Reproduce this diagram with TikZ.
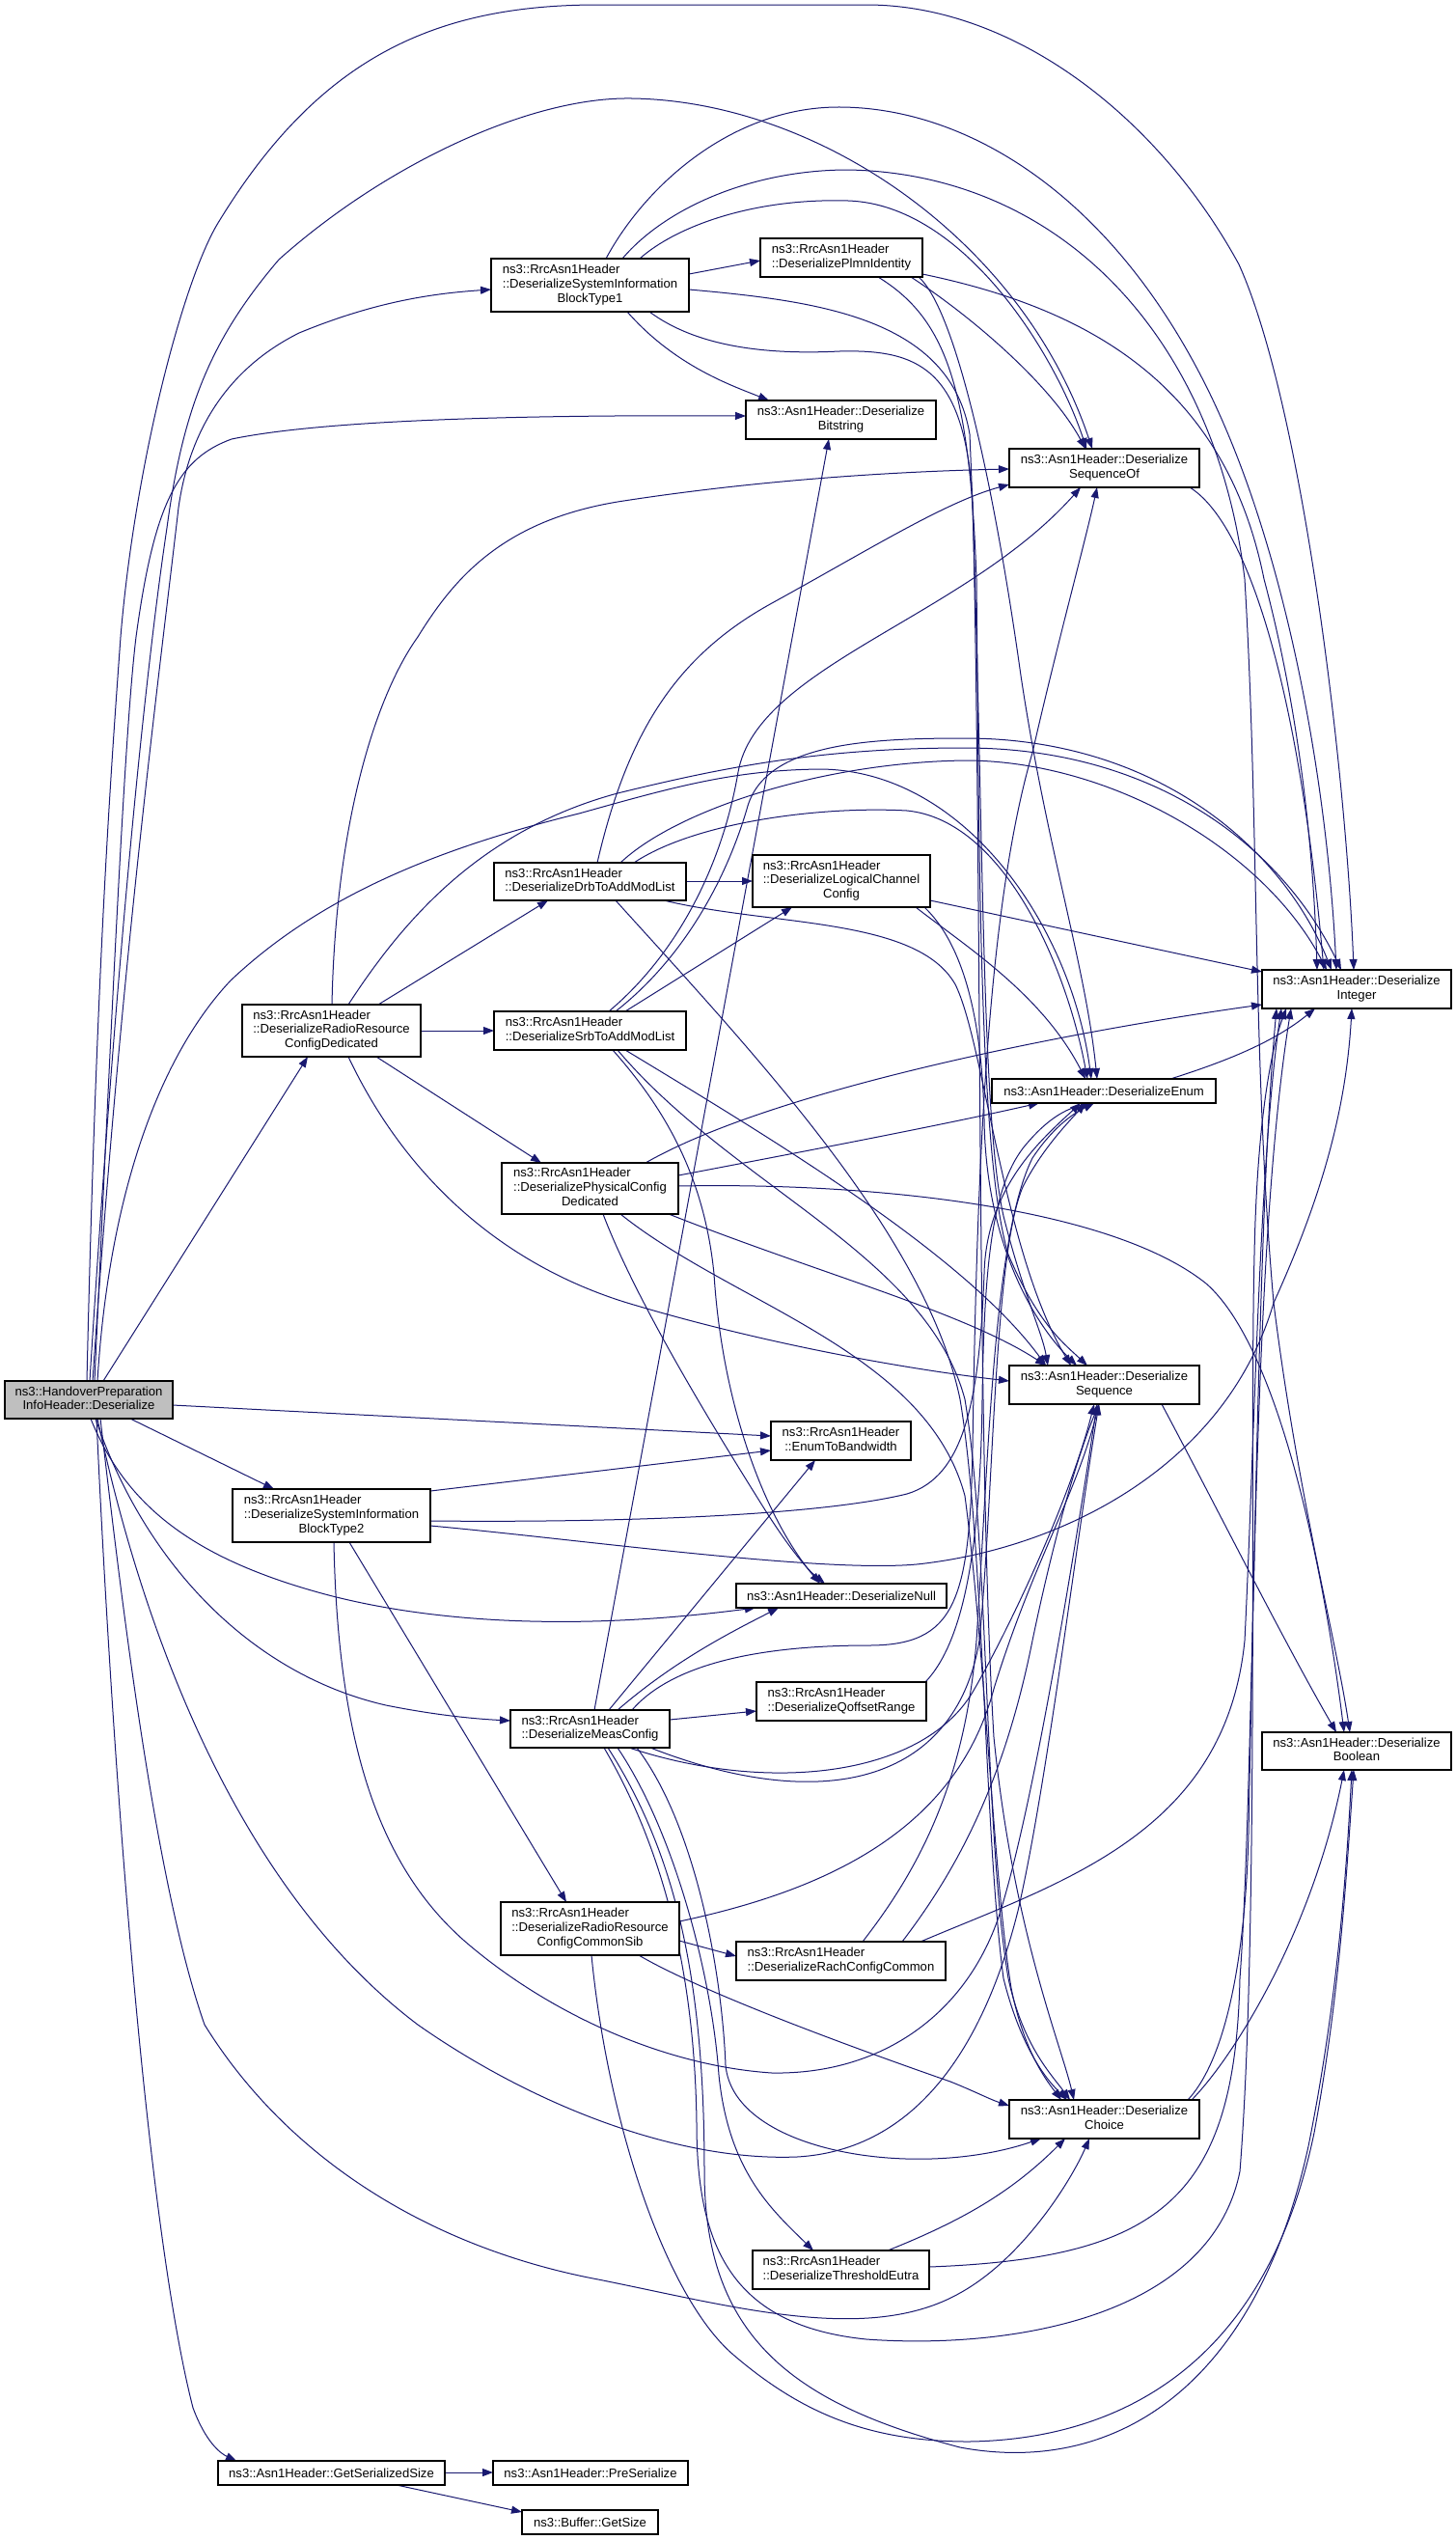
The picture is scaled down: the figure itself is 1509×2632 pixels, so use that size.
\documentclass[tikz,border=0pt]{standalone}
\usepackage{fontspec}
\setmainfont{Liberation Sans}
\usetikzlibrary{arrows.meta}
\definecolor{edgeblue}{HTML}{191970}
\definecolor{mainfill}{HTML}{BFBFBF}
\newcommand\lt[2]{\begin{tabular}{@{}l@{}}#1\\\multicolumn{1}{@{}c@{}}{#2}\end{tabular}}
\pgfdeclarelayer{bg}
\pgfdeclarelayer{edges}
\pgfsetlayers{bg,edges,main}
\begin{document}
\begin{tikzpicture}[x=1pt,y=-1pt,
  box/.style={draw=black,line width=1.1pt,fill=white,anchor=north west,inner sep=0pt,outer sep=0pt,font=\fontsize{13.1}{14.7}\selectfont},
  e/.style={draw=edgeblue,line width=1pt,-{Triangle[length=11pt,width=8pt]}}]
\begin{pgfonlayer}{bg}
\fill[white] (0,0) rectangle (1509,2632);
\end{pgfonlayer}
\useasboundingbox (0,0) rectangle (1509,2632);
% nodes
\node[box,fill=mainfill,minimum width=174pt,minimum height=39pt] (M) at (5,1431) {\lt{ns3::HandoverPreparation}{InfoHeader::Deserialize}};
\node[box,minimum width=205pt,minimum height=55pt] (S1) at (509,268) {\lt{ns3::RrcAsn1Header\\::DeserializeSystemInformation}{BlockType1}};
\node[box,minimum width=168pt,minimum height=40pt] (PI) at (788,247) {\lt{ns3::RrcAsn1Header}{::DeserializePlmnIdentity}};
\node[box,minimum width=197pt,minimum height=40pt] (BS) at (773,415) {\lt{ns3::Asn1Header::Deserialize}{Bitstring}};
\node[box,minimum width=197pt,minimum height=40pt] (SO) at (1046,465) {\lt{ns3::Asn1Header::Deserialize}{SequenceOf}};
\node[box,minimum width=199pt,minimum height=39pt] (DRB) at (512,894) {\lt{ns3::RrcAsn1Header}{::DeserializeDrbToAddModList}};
\node[box,minimum width=184pt,minimum height=54pt] (LCC) at (780,886) {\lt{ns3::RrcAsn1Header\\::DeserializeLogicalChannel}{Config}};
\node[box,minimum width=185pt,minimum height=54pt] (RD) at (251,1041) {\lt{ns3::RrcAsn1Header\\::DeserializeRadioResource}{ConfigDedicated}};
\node[box,minimum width=199pt,minimum height=40pt] (SRB) at (512,1048) {\lt{ns3::RrcAsn1Header}{::DeserializeSrbToAddModList}};
\node[box,minimum width=196pt,minimum height=40pt] (INT) at (1308,1005) {\lt{ns3::Asn1Header::Deserialize}{Integer}};
\node[box,minimum width=232pt,minimum height=25pt] (EN) at (1028,1118) {ns3::Asn1Header::DeserializeEnum};
\node[box,minimum width=183pt,minimum height=53pt] (PCD) at (520,1205) {\lt{ns3::RrcAsn1Header\\::DeserializePhysicalConfig}{Dedicated}};
\node[box,minimum width=197pt,minimum height=40pt] (SEQ) at (1046,1415) {\lt{ns3::Asn1Header::Deserialize}{Sequence}};
\node[box,minimum width=145pt,minimum height=40pt] (EB) at (799,1473) {\lt{ns3::RrcAsn1Header}{::EnumToBandwidth}};
\node[box,minimum width=205pt,minimum height=55pt] (S2) at (241,1543) {\lt{ns3::RrcAsn1Header\\::DeserializeSystemInformation}{BlockType2}};
\node[box,minimum width=218pt,minimum height=25pt] (NU) at (763,1641) {ns3::Asn1Header::DeserializeNull};
\node[box,minimum width=165pt,minimum height=39pt] (MC) at (529,1772) {\lt{ns3::RrcAsn1Header}{::DeserializeMeasConfig}};
\node[box,minimum width=176pt,minimum height=40pt] (QR) at (784,1743) {\lt{ns3::RrcAsn1Header}{::DeserializeQoffsetRange}};
\node[box,minimum width=196pt,minimum height=39pt] (BO) at (1308,1795) {\lt{ns3::Asn1Header::Deserialize}{Boolean}};
\node[box,minimum width=185pt,minimum height=55pt] (RCS) at (519,1971) {\lt{ns3::RrcAsn1Header\\::DeserializeRadioResource}{ConfigCommonSib}};
\node[box,minimum width=217pt,minimum height=40pt] (RCC) at (763,2012) {\lt{ns3::RrcAsn1Header}{::DeserializeRachConfigCommon}};
\node[box,minimum width=197pt,minimum height=40pt] (CH) at (1046,2176) {\lt{ns3::Asn1Header::Deserialize}{Choice}};
\node[box,minimum width=183pt,minimum height=40pt] (TE) at (780,2332) {\lt{ns3::RrcAsn1Header}{::DeserializeThresholdEutra}};
\node[box,minimum width=235pt,minimum height=25pt] (GS) at (226,2550) {ns3::Asn1Header::GetSerializedSize};
\node[box,minimum width=202pt,minimum height=25pt] (PS) at (511,2550) {ns3::Asn1Header::PreSerialize};
\node[box,minimum width=141pt,minimum height=25pt] (BG) at (541,2601) {ns3::Buffer::GetSize};
% edges
\begin{pgfonlayer}{edges}
% Main
\draw[e] ([xshift=85pt]M.north west) .. controls (100,1000) and (115,800) .. (125,660) .. controls (140,480) and (190,290) .. (226,231) .. controls (330,60) and (450,5) .. (620,5) -- (898,5) .. controls (1050,5) and (1200,120) .. (1284,274) .. controls (1350,420) and (1395,800) .. ([xshift=95pt]INT.north west);
\draw[e] ([xshift=88pt]M.north west) .. controls (120,1000) and (150,700) .. (173,547) .. controls (190,420) and (220,350) .. (289,269) .. controls (400,170) and (550,100) .. (655,102) .. controls (850,105) and (1060,250) .. ([xshift=86pt]SO.north west);
\draw[e] ([xshift=91pt]M.north west) .. controls (125,1000) and (165,700) .. (185,526) .. controls (200,420) and (260,370) .. (310,345) .. controls (390,312) and (450,304) .. ([yshift=-32pt]S1.north west);
\draw[e] ([xshift=93pt]M.north west) .. controls (118,1000) and (130,750) .. (141,660) .. controls (160,520) and (185,475) .. (240,455) .. controls (350,432) and (600,430) .. ([yshift=-16pt]BS.north west);
\draw[e] ([xshift=96pt]M.north west) .. controls (112,1250) and (160,1100) .. (239,1016) .. controls (330,930) and (450,880) .. (600,843) .. controls (700,815) and (760,798) .. (850,797) .. controls (1000,798) and (1110,960) .. ([xshift=103pt]EN.north west);
\draw[e] ([xshift=102pt]M.north west) -- ([xshift=68pt]RD.south west);
\draw[e] ([yshift=-25pt]M.north east) -- ([yshift=-15pt]EB.north west);
\draw[e] ([xshift=130pt]M.south west) -- ([xshift=43pt]S2.north west);
\draw[e] ([xshift=89pt]M.south west) .. controls (130,1560) and (200,1615) .. (337,1652) .. controls (450,1682) and (600,1690) .. ([xshift=20pt]NU.south west);
\draw[e] ([xshift=94pt]M.south west) .. controls (150,1620) and (260,1735) .. (400,1767) .. controls (450,1777) and (490,1781) .. ([yshift=-11pt]MC.north west);
\draw[e] ([xshift=96pt]M.south west) .. controls (150,1700) and (250,1960) .. (433,2098) .. controls (550,2180) and (700,2240) .. (826,2235) .. controls (950,2228) and (1020,2120) .. (1055,1980) .. controls (1085,1850) and (1115,1600) .. ([xshift=93pt]SEQ.south west);
\draw[e] ([xshift=99pt]M.south west) .. controls (125,1650) and (160,1950) .. (212,2098) .. controls (300,2240) and (450,2330) .. (620,2362) .. controls (760,2390) and (900,2430) .. (995,2376) .. controls (1060,2340) and (1110,2260) .. ([xshift=83pt]CH.south west);
\draw[e] ([xshift=95pt]M.south west) .. controls (115,1800) and (150,2300) .. (200,2495) .. controls (213,2530) and (228,2542) .. ([xshift=19pt]GS.north west);
% SIB1
\draw[e] ([yshift=-16pt]S1.north east) -- ([yshift=-23pt]PI.north west);
\draw[e] ([xshift=141pt]S1.south west) .. controls (700,380) and (760,400) .. ([xshift=24pt]BS.north west);
\draw[e] ([xshift=154pt]S1.north west) .. controls (700,235) and (780,205) .. (879,208) .. controls (1000,212) and (1095,370) .. ([xshift=80pt]SO.north west);
\draw[e] ([xshift=119pt]S1.north west) .. controls (670,190) and (760,112) .. (867,111) .. controls (1000,110) and (1150,200) .. (1250,400) .. controls (1330,560) and (1375,800) .. ([xshift=77pt]INT.north west);
\draw[e] ([xshift=136pt]S1.north west) .. controls (690,215) and (780,176) .. (879,176) .. controls (1100,180) and (1260,350) .. (1290,600) .. controls (1305,850) and (1298,1100) .. (1320,1350) .. controls (1345,1550) and (1385,1700) .. ([xshift=91pt]BO.north west);
\draw[e] ([yshift=-32pt]S1.north east) .. controls (850,312) and (985,330) .. (1005,450) .. controls (1020,800) and (1015,1150) .. (1040,1260) .. controls (1060,1340) and (1080,1380) .. ([xshift=40pt]SEQ.north west);
\draw[e] ([xshift=164pt]S1.south west) .. controls (720,358) and (790,368) .. (870,364) .. controls (950,362) and (1000,380) .. (1008,520) .. controls (1018,900) and (1012,1500) .. (1030,1800) .. controls (1050,2000) and (1100,2120) .. ([xshift=67pt]CH.north west);
% PlmnIdentity
\draw[e] ([xshift=156pt]PI.south west) .. controls (1010,330) and (1090,400) .. ([xshift=79pt]SO.north west);
\draw[e] ([yshift=-37pt]PI.north east) .. controls (1130,320) and (1270,400) .. (1310,600) .. controls (1350,750) and (1362,900) .. ([xshift=57pt]INT.north west);
\draw[e] ([xshift=164pt]PI.south west) .. controls (990,320) and (1030,500) .. (1058,700) .. controls (1085,880) and (1125,1000) .. ([xshift=109pt]EN.north west);
\draw[e] ([xshift=122pt]PI.south west) .. controls (980,330) and (1005,400) .. (1012,600) .. controls (1015,900) and (1015,1200) .. (1045,1300) .. controls (1075,1370) and (1100,1390) .. ([xshift=81pt]SEQ.north west);
% SequenceOf
\draw[e] ([xshift=187pt]SO.south west) .. controls (1290,540) and (1345,700) .. ([xshift=64pt]INT.north west);
% DrbToAddModList
\draw[e] ([xshift=107pt]DRB.north west) .. controls (650,760) and (700,680) .. (800,625) .. controls (900,570) and (980,520) .. ([yshift=-37pt]SO.north west);
\draw[e] ([yshift=-19pt]DRB.north east) -- ([yshift=-27pt]LCC.north west);
\draw[e] ([xshift=131pt]DRB.north west) .. controls (700,840) and (850,790) .. (1000,788) .. controls (1150,788) and (1310,880) .. ([xshift=67pt]INT.north west);
\draw[e] ([xshift=145pt]DRB.north west) .. controls (720,852) and (850,835) .. (940,840) .. controls (1040,850) and (1105,1000) .. ([xshift=99pt]EN.north west);
\draw[e] ([xshift=176pt]DRB.south west) .. controls (800,960) and (950,950) .. (990,1020) .. controls (1020,1080) and (1040,1300) .. ([xshift=64pt]SEQ.north west);
\draw[e] ([xshift=126pt]DRB.south west) .. controls (780,1090) and (960,1280) .. (995,1450) .. controls (1020,1600) and (1020,1900) .. (1040,2050) .. controls (1060,2130) and (1090,2160) .. ([xshift=60pt]CH.north west);
% SrbToAddModList
\draw[e] ([xshift=119pt]SRB.north west) .. controls (700,990) and (748,900) .. (765,800) .. controls (785,690) and (1000,640) .. ([xshift=74pt]SO.south west);
\draw[e] ([xshift=126pt]SRB.north west) .. controls (712,990) and (755,905) .. (775,835) .. controls (795,770) and (900,765) .. (1000,765) .. controls (1200,765) and (1330,880) .. ([xshift=72pt]INT.north west);
\draw[e] ([xshift=136pt]SRB.north west) -- ([xshift=41pt]LCC.south west);
\draw[e] ([xshift=123pt]SRB.south west) .. controls (690,1150) and (730,1220) .. (740,1320) .. controls (748,1450) and (790,1570) .. ([xshift=87pt]NU.north west);
\draw[e] ([xshift=128pt]SRB.south west) .. controls (760,1230) and (960,1300) .. (1000,1450) .. controls (1025,1600) and (1020,1900) .. (1045,2050) .. controls (1060,2120) and (1090,2150) .. ([xshift=63pt]CH.north west);
\draw[e] ([xshift=136pt]SRB.south west) .. controls (800,1180) and (1000,1300) .. ([xshift=38pt]SEQ.north west);
% LogicalChannelConfig
\draw[e] ([yshift=-47pt]LCC.north east) -- ([yshift=-2pt]INT.north west);
\draw[e] ([xshift=169pt]LCC.south west) .. controls (1000,980) and (1080,1030) .. ([xshift=97pt]EN.north west);
\draw[e] ([xshift=178pt]LCC.south west) .. controls (1000,980) and (1018,1060) .. (1020,1160) .. controls (1022,1300) and (1080,1380) .. ([xshift=70pt]SEQ.north west);
% RadioResourceConfigDedicated
\draw[e] ([xshift=93pt]RD.north west) .. controls (348,850) and (390,720) .. (433,660) .. controls (470,600) and (520,540) .. (640,520) .. controls (800,495) and (950,488) .. ([yshift=-21pt]SO.north west);
\draw[e] ([xshift=110pt]RD.north west) .. controls (420,950) and (500,860) .. (640,822) .. controls (750,795) and (850,775) .. (1000,775) .. controls (1200,775) and (1330,880) .. ([xshift=82pt]INT.north west);
\draw[e] ([xshift=141pt]RD.north west) -- ([xshift=56pt]DRB.south west);
\draw[e] ([yshift=-27pt]RD.north east) -- ([yshift=-20pt]SRB.north west);
\draw[e] ([xshift=139pt]RD.south west) -- ([xshift=41pt]PCD.north west);
\draw[e] ([xshift=110pt]RD.south west) .. controls (420,1220) and (520,1310) .. (650,1350) .. controls (800,1395) and (950,1420) .. ([yshift=-16pt]SEQ.north west);
% PhysicalConfigDedicated
\draw[e] ([xshift=149pt]PCD.north west) .. controls (800,1130) and (1100,1070) .. ([yshift=-36pt]INT.north west);
\draw[e] ([yshift=-13pt]PCD.north east) .. controls (850,1190) and (980,1165) .. ([xshift=49pt]EN.south west);
\draw[e] ([yshift=-24pt]PCD.north east) .. controls (900,1225) and (1150,1250) .. (1250,1330) .. controls (1330,1400) and (1375,1650) .. ([xshift=85pt]BO.north west);
\draw[e] ([xshift=173pt]PCD.south west) .. controls (850,1320) and (1000,1360) .. ([xshift=38pt]SEQ.north west);
\draw[e] ([xshift=105pt]PCD.south west) .. controls (660,1350) and (740,1480) .. (790,1560) .. controls (815,1600) and (835,1625) .. ([xshift=92pt]NU.north west);
\draw[e] ([xshift=123pt]PCD.south west) .. controls (760,1352) and (960,1400) .. (1000,1550) .. controls (1020,1700) and (1030,1950) .. (1048,2060) .. controls (1060,2120) and (1080,2150) .. ([xshift=54pt]CH.north west);
% SIB2
\draw[e] ([yshift=-2pt]S2.north east) -- ([yshift=-30pt]EB.north west);
\draw[e] ([yshift=-33pt]S2.north east) .. controls (650,1578) and (850,1570) .. (940,1548) .. controls (1000,1530) and (1015,1450) .. (1020,1320) .. controls (1022,1230) and (1080,1180) .. ([xshift=92pt]EN.south west);
\draw[e] ([yshift=-38pt]S2.north east) .. controls (600,1595) and (850,1630) .. (950,1621) .. controls (1100,1605) and (1270,1520) .. (1320,1350) .. controls (1370,1240) and (1395,1150) .. ([xshift=93pt]INT.south west);
\draw[e] ([xshift=105pt]S2.south west) .. controls (350,1800) and (390,1930) .. (480,2010) .. controls (560,2080) and (680,2140) .. (800,2148) .. controls (920,2150) and (1010,2080) .. (1040,1970) .. controls (1075,1850) and (1115,1600) .. ([xshift=91pt]SEQ.south west);
\draw[e] ([xshift=121pt]S2.south west) -- ([xshift=68pt]RCS.north west);
% MeasConfig
\draw[e] ([xshift=87pt]MC.north west) -- ([xshift=86pt]BS.south west);
\draw[e] ([xshift=102pt]MC.north west) -- ([xshift=46pt]EB.south west);
\draw[e] ([xshift=111pt]MC.north west) .. controls (700,1720) and (760,1690) .. ([xshift=44pt]NU.south west);
\draw[e] ([xshift=126pt]MC.north west) .. controls (700,1720) and (800,1705) .. (900,1705) .. controls (990,1705) and (1005,1660) .. (1008,1500) .. controls (1012,1250) and (1020,950) .. (1070,780) .. controls (1095,670) and (1125,560) .. ([xshift=91pt]SO.south west);
\draw[e] ([yshift=-10pt]MC.north east) -- ([yshift=-30pt]QR.north west);
\draw[e] ([xshift=123pt]MC.south west) .. controls (800,1860) and (960,1840) .. (1010,1750) .. controls (1050,1680) and (1110,1550) .. ([xshift=88pt]SEQ.south west);
\draw[e] ([xshift=145pt]MC.south west) .. controls (850,1880) and (990,1850) .. (1015,1700) .. controls (1030,1550) and (1030,1300) .. (1060,1230) .. controls (1080,1190) and (1110,1160) .. ([xshift=97pt]EN.south west);
\draw[e] ([xshift=97pt]MC.south west) .. controls (690,1920) and (720,2050) .. (722,2200) .. controls (722,2330) and (760,2410) .. (898,2424) .. controls (1050,2435) and (1255,2400) .. (1285,2250) .. controls (1305,2000) and (1295,1500) .. (1300,1300) .. controls (1303,1150) and (1320,1080) .. ([xshift=25pt]INT.south west);
\draw[e] ([xshift=101pt]MC.south west) .. controls (700,1920) and (730,2050) .. (730,2250) .. controls (730,2420) and (820,2490) .. (995,2536) .. controls (1150,2565) and (1300,2480) .. (1356,2224) .. controls (1385,2080) and (1395,1950) .. ([xshift=93pt]BO.south west);
\draw[e] ([xshift=111pt]MC.south west) .. controls (700,1900) and (738,2050) .. (745,2150) .. controls (755,2250) and (800,2290) .. ([xshift=63pt]TE.north west);
\draw[e] ([xshift=131pt]MC.south west) .. controls (720,1890) and (748,2040) .. (752,2140) .. controls (760,2230) and (950,2260) .. ([xshift=33pt]CH.south west);
% QoffsetRange
\draw[e] ([xshift=175pt]QR.north west) .. controls (1000,1700) and (1016,1600) .. (1018,1450) .. controls (1020,1300) and (1030,1230) .. (1060,1190) .. controls (1080,1165) and (1100,1150) .. ([xshift=103pt]EN.south west);
% RadioResourceConfigCommonSib
\draw[e] ([yshift=-20pt]RCS.north east) .. controls (850,1960) and (990,1900) .. (1030,1750) .. controls (1070,1620) and (1115,1550) .. ([xshift=93pt]SEQ.south west);
\draw[e] ([yshift=-40pt]RCS.north east) -- ([yshift=-15pt]RCC.north west);
\draw[e] ([xshift=143pt]RCS.south west) .. controls (720,2060) and (850,2110) .. (985,2157) .. controls (1010,2167) and (1025,2175) .. ([yshift=-6pt]CH.north west);
\draw[e] ([xshift=94pt]RCS.south west) .. controls (630,2200) and (690,2380) .. (760,2440) .. controls (830,2500) and (900,2530) .. (1004,2530) .. controls (1150,2528) and (1310,2460) .. (1362,2210) .. controls (1388,2070) and (1395,1950) .. ([xshift=95pt]BO.south west);
% RachConfigCommon
\draw[e] ([xshift=172pt]RCC.north west) .. controls (990,1940) and (1040,1850) .. (1070,1700) .. controls (1095,1580) and (1120,1500) .. ([xshift=93pt]SEQ.south west);
\draw[e] ([xshift=131pt]RCC.north west) .. controls (950,1940) and (1000,1850) .. (1012,1700) .. controls (1025,1500) and (1030,1280) .. (1070,1200) .. controls (1090,1170) and (1110,1155) .. ([xshift=106pt]EN.south west);
\draw[e] ([xshift=191pt]RCC.north west) .. controls (1100,1950) and (1270,1900) .. (1290,1700) .. controls (1300,1500) and (1305,1200) .. ([xshift=20pt]INT.south west);
% ThresholdEutra
\draw[e] ([xshift=140pt]TE.north west) .. controls (1000,2300) and (1050,2270) .. ([xshift=58pt]CH.south west);
\draw[e] ([yshift=-17pt]TE.north east) .. controls (1200,2340) and (1280,2280) .. (1285,2050) .. controls (1300,1850) and (1300,1300) .. ([xshift=15pt]INT.south west);
% Choice, Sequence, Enum
\draw[e] ([xshift=185pt]CH.north west) .. controls (1265,2140) and (1290,2050) .. (1294,1900) .. controls (1300,1600) and (1305,1250) .. ([xshift=30pt]INT.south west);
\draw[e] ([xshift=189pt]CH.north west) .. controls (1280,2130) and (1360,2000) .. ([xshift=85pt]BO.south west);
\draw[e] ([xshift=158pt]SEQ.south west) .. controls (1260,1560) and (1330,1700) .. ([xshift=77pt]BO.north west);
\draw[e] ([xshift=185pt]EN.north west) .. controls (1270,1100) and (1320,1080) .. ([xshift=55pt]INT.south west);
% GetSerializedSize
\draw[e] ([yshift=-12pt]GS.north east) -- ([yshift=-12pt]PS.north west);
\draw[e] ([xshift=185pt]GS.south west) -- ([yshift=-2pt]BG.north west);
\end{pgfonlayer}
\end{tikzpicture}
\end{document}
